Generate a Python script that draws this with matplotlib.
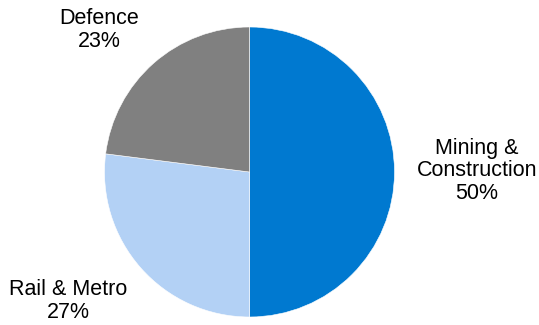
import matplotlib
matplotlib.use("Agg")
import matplotlib.pyplot as plt

plt.rcParams["font.family"] = ["Liberation Sans", "DejaVu Sans"]

segments = ["Mining &\nConstruction", "Rail & Metro", "Defence"]
shares = [50, 27, 23]
colors = ["#0079D0", "#B3D1F5", "#808080"]

# label anchor positions (pixel coords, y up)
label_pos = [(477, 154), (68, 24), (99, 295)]

W, H = 539, 325
fig = plt.figure(figsize=(W / 100, H / 100), dpi=100)
ax = fig.add_axes([0, 0, 1, 1])

ax.pie(shares, colors=colors, startangle=90, counterclock=False,
       center=(249.5, 153), radius=145, frame=True,
       wedgeprops=dict(edgecolor="white", linewidth=0.4))
ax.set_xlim(0, W)
ax.set_ylim(0, H)
ax.set_aspect("equal")
ax.axis("off")

for name, val, (x, y) in zip(segments, shares, label_pos):
    ax.text(x, y, "%s\n%d%%" % (name, val), ha="center", va="center",
            fontsize=15.5, color="black", linespacing=1.12)

fig.savefig("out.png", dpi=100)
